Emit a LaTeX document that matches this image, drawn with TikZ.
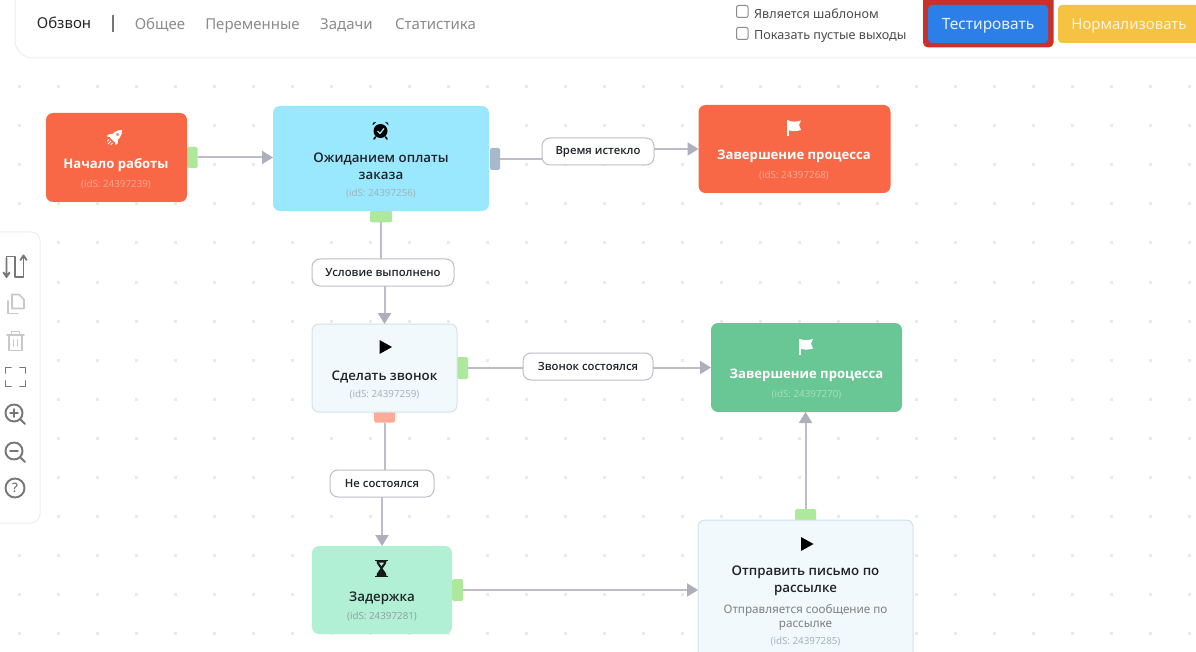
\documentclass[tikz,border=0pt]{standalone}
\usepackage{fontspec}
\setmainfont{Noto Sans}
\newfontfamily\boldfam{Open Sans Bold}
\newfontfamily\semifam{Open Sans Semibold}
\usetikzlibrary{arrows.meta}
\definecolor{linegray}{HTML}{BDBDC9}
\definecolor{tipgray}{HTML}{AEAEBC}
\definecolor{dotgray}{HTML}{EAEAEA}
\definecolor{orangebox}{HTML}{F96846}
\definecolor{cyanbox}{HTML}{9AE8FE}
\definecolor{paleblue}{HTML}{F2F9FC}
\definecolor{paleborder}{HTML}{CFE3EC}
\definecolor{greenbox}{HTML}{69C795}
\definecolor{mintbox}{HTML}{B1F0D4}
\definecolor{portgreen}{HTML}{AEE89A}
\definecolor{portslate}{HTML}{A9B9CC}
\definecolor{portsalmon}{HTML}{FFAB97}
\definecolor{panelline}{HTML}{EEEEEE}
\definecolor{navgray}{HTML}{8C8C8C}
\definecolor{titledark}{HTML}{1F2328}
\definecolor{idorange}{HTML}{F9A48F}
\definecolor{idcool}{HTML}{A3B3BA}
\definecolor{idgreen}{HTML}{A5DDBF}
\definecolor{btnblue}{HTML}{2C7FE8}
\definecolor{btnred}{HTML}{C8302C}
\definecolor{btnyellow}{HTML}{F6C244}
\definecolor{icondark}{HTML}{777777}
\definecolor{iconlight}{HTML}{C8C8C8}
\tikzset{
  flowbox/.style={rectangle,rounded corners=7pt,inner sep=0pt,outer sep=0pt},
  portbox/.style={rectangle,rounded corners=1.5pt,inner sep=0pt,outer sep=0pt},
  title/.style={font=\semifam\fontsize{13.3}{17.5}\selectfont,align=center,text=titledark,inner sep=0pt},
  whitetitle/.style={font=\boldfam\fontsize{13.1}{17}\selectfont,align=center,text=white,inner sep=0pt},
  idtext/.style={font=\fontsize{9.8}{12}\selectfont,inner sep=0pt},
  edgelabel/.style={rectangle,rounded corners=8pt,draw=linegray,line width=1pt,fill=white,inner sep=0pt,outer sep=0pt,font=\semifam\fontsize{11.3}{14}\selectfont,text=titledark},
  edge/.style={draw=linegray,line width=2pt,-{Triangle[length=11pt,width=13pt,color=tipgray]}},
  plain/.style={draw=linegray,line width=2pt},
  nav/.style={font=\fontsize{15}{17}\selectfont,text=navgray,inner sep=0pt,anchor=base},
  chk/.style={font=\fontsize{12.6}{15}\selectfont,text=black!70,inner sep=0pt,anchor=base west},
  tool/.style={draw=icondark,line width=1.9pt,line cap=round,line join=round},
  toollight/.style={draw=iconlight,line width=1.6pt,line cap=round,line join=round}
}
\begin{document}
\begin{tikzpicture}[x=1pt,y=-1pt]
\clip (0,0) rectangle (1196,652);
\fill[white] (0,0) rectangle (1196,652);
% dot grid
\foreach \i in {0,...,30}{\foreach \j in {0,...,14}{
  \fill[dotgray] ({19+39*\i-1.5},{87+39*\j-1.5}) rectangle +(3,3);
}}
% header panel
\draw[panelline,line width=1pt,fill=white,rounded corners=18pt] (15,-30) rectangle (1230,58);
\node[font=\fontsize{15}{17}\selectfont,text=black!85,inner sep=0pt,anchor=base] (tabmain) at (64,29) {Обзвон};
\draw[icondark,line width=1.2pt] (113,15) -- (113,32);
\node[nav] (tab1) at (160,30) {Общее};
\node[nav] (tab2) at (252.5,30) {Переменные};
\node[nav] (tab3) at (346.5,30) {Задачи};
\node[nav] (tab4) at (435.5,30) {Статистика};
\draw[black!45,line width=1pt,rounded corners=2pt,fill=white] (736.5,5.5) rectangle (748,17.5);
\draw[black!45,line width=1pt,rounded corners=2pt,fill=white] (736.5,27.5) rectangle (748,39.5);
\node[chk] (chka) at (754,19) {Является шаблоном};
\node[chk] (chkb) at (754,40) {Показать пустые выходы};
\fill[btnred,rounded corners=5pt] (923,-6) rectangle (1053.5,47.5);
\node[rectangle,rounded corners=4pt,fill=btnblue,minimum width=120pt,minimum height=38pt,inner sep=0pt] (testbtn) at (988,24) {};
\node[text=white!88!btnblue,font=\fontsize{15.5}{18}\selectfont,inner sep=0pt,anchor=base] (testtxt) at (988,30) {Тестировать};
\node[rectangle,rounded corners=4pt,fill=btnyellow,minimum width=160pt,minimum height=38pt,inner sep=0pt] (normbg) at (1138,24) {};
\node[text=white!80!btnyellow,font=\fontsize{15}{18}\selectfont,inner sep=0pt,anchor=base] (normbtn) at (1129,30) {Нормализовать};
% toolbar
\draw[panelline,line width=1pt,fill=white,rounded corners=9pt] (-20,232) rectangle (40,523);
\draw[tool] (6.5,258) -- (6.5,276) (3.5,272.5) -- (6.5,277) -- (9.5,272.5);
\draw[tool] (6.5,258) -- (6.5,256.5) -- (15,256.5) -- (15,277) -- (23.5,277) -- (23.5,257);
\draw[tool] (20.5,260) -- (23.5,255.5) -- (26.5,260);
\draw[toollight] (12,294.5) -- (19,294.5) -- (24,299.5) -- (24,308.5) -- (12,308.5) -- cycle;
\draw[toollight] (8,301) -- (8,313.5) -- (18,313.5);
\draw[toollight] (7,335) -- (24,335) (11.5,335) -- (11.5,331.5) -- (19.5,331.5) -- (19.5,335);
\draw[toollight] (9,335) -- (9,350.5) -- (22,350.5) -- (22,335) (13.5,340) -- (13.5,346) (17.5,340) -- (17.5,346);
\draw[tool] (5.5,373) -- (5.5,367.5) -- (11,367.5) (20,367.5) -- (25.5,367.5) -- (25.5,373) (5.5,381) -- (5.5,386.5) -- (11,386.5) (20,386.5) -- (25.5,386.5) -- (25.5,381);
\draw[tool] (14,413) circle (8.5) (20.2,419.2) -- (25,424) (14,409) -- (14,417) (10,413) -- (18,413);
\draw[tool] (14,451) circle (8.5) (20.2,457.2) -- (25,462) (10,451) -- (18,451);
\draw[tool] (15,488) circle (9.5);
\node[text=icondark,font=\semifam\fontsize{13}{15}\selectfont,inner sep=0pt] (helpmark) at (15,488) {?};
% ports
\node[portbox,fill=portgreen,minimum width=11pt,minimum height=21pt] (p1) at (192,157.5) {};
\node[portbox,fill=portslate,minimum width=10pt,minimum height=22pt] (p2) at (495,159) {};
\node[portbox,fill=portgreen,minimum width=22pt,minimum height=12pt] (p3) at (381,216.5) {};
\node[portbox,fill=portgreen,minimum width=11pt,minimum height=22pt] (p4) at (462.5,368) {};
\node[portbox,fill=portsalmon,minimum width=21pt,minimum height=11pt] (p5) at (384.5,417) {};
\node[portbox,fill=portgreen,minimum width=11pt,minimum height=22pt] (p6) at (457.5,590) {};
\node[portbox,fill=portgreen,minimum width=21pt,minimum height=12pt] (p7) at (805.5,515) {};
% boxes
\node[flowbox,fill=orangebox,minimum width=141pt,minimum height=89pt] (start) at (116.5,157.5) {};
\node[flowbox,fill=cyanbox,minimum width=216pt,minimum height=105pt] (wait) at (381,158.5) {};
\node[flowbox,fill=orangebox,minimum width=192pt,minimum height=88pt] (end1) at (794.5,149) {};
\node[flowbox,fill=paleblue,draw=paleborder,line width=1pt,minimum width=145pt,minimum height=88pt] (call) at (384.5,368) {};
\node[flowbox,fill=greenbox,minimum width=191pt,minimum height=89pt] (end2) at (806.5,367.5) {};
\node[flowbox,fill=mintbox,minimum width=140pt,minimum height=88pt] (delay) at (382,590) {};
\node[flowbox,fill=paleblue,draw=paleborder,line width=1pt,minimum width=215pt,minimum height=150pt] (mail) at (805.5,595) {};
% titles
\node[whitetitle] (t1) at (116,165.5) {Начало работы};
\node[idtext,text=idorange] (i1) at (116,184.5) {(idS: 24397239)};
\node[title] (t2) at (381,166) {Ожиданием оплаты\\заказа};
\node[idtext,text=idcool] (i2) at (381,194) {(idS: 24397256)};
\node[whitetitle] (t3) at (794,156.5) {Завершение процесса};
\node[idtext,text=idorange] (i3) at (794,176) {(idS: 24397268)};
\node[title] (t4) at (384.5,376.5) {Сделать звонок};
\node[idtext,text=idcool] (i4) at (384.5,394.5) {(idS: 24397259)};
\node[whitetitle] (t5) at (806.5,375.5) {Завершение процесса};
\node[idtext,text=idgreen] (i5) at (806.5,395) {(idS: 24397270)};
\node[title] (t6) at (382,598) {Задержка};
\node[idtext,text=idcool!90!black] (i6) at (382,617) {(idS: 24397281)};
\node[title] (t7) at (805.5,581) {Отправить письмо по\\рассылке};
\node[font=\fontsize{11.7}{14}\selectfont,text=black!50,align=center,inner sep=0pt] (s7) at (805.5,617) {Отправляется сообщение по\\рассылке};
\node[idtext,text=idcool] (i7) at (805.5,642) {(idS: 24397285)};
% edge labels
\node[edgelabel,minimum width=112pt,minimum height=27pt] (lab1) at (598,151.5) {Время истекло};
\node[edgelabel,minimum width=142pt,minimum height=27pt] (lab2) at (383,272.5) {Условие выполнено};
\node[edgelabel,minimum width=130pt,minimum height=27pt] (lab3) at (588,366.5) {Звонок состоялся};
\node[edgelabel,minimum width=104pt,minimum height=27pt] (lab4) at (382,483.5) {Не состоялся};
% connectors
\draw[edge] (p1.east) -- (wait.west |- p1.east);
\draw[plain] (p2.east) -- (lab1.west |- p2.east);
\draw[edge] (lab1.east |- end1.west) -- (end1.west);
\draw[plain] (p3.south) -- (p3.south |- lab2.north);
\draw[edge] (call.north |- lab2.south) -- (call.north);
\draw[plain] (p4.east) -- (lab3.west |- p4.east);
\draw[edge] (lab3.east |- end2.west) -- (end2.west);
\draw[plain] (p5.south) -- (p5.south |- lab4.north);
\draw[edge] (lab4.south) -- (delay.north);
\draw[edge] (p6.east) -- (mail.west |- p6.east);
\draw[edge] (p7.north) -- (p7.north |- end2.south);
% rocket
\begin{scope}[shift={(115,137)},rotate=-45]
\fill[white] (0,-10) .. controls (4.5,-6) and (4.5,0) .. (3.2,4) -- (-3.2,4) .. controls (-4.5,0) and (-4.5,-6) .. (0,-10) -- cycle;
\fill[white] (-3.6,-1) -- (-6.5,3) -- (-6,5.5) -- (-3.2,3) -- cycle (3.6,-1) -- (6.5,3) -- (6,5.5) -- (3.2,3) -- cycle;
\fill[orangebox] (0,-3.5) circle (1.6);
\draw[white,line width=1pt] (-2.5,6) -- (-2.5,8.5) (0,6) -- (0,10) (2.5,6) -- (2.5,8.5);
\end{scope}
% alarm clock
\fill[black] (380.5,131) circle (7);
\fill[black] (372.5,125.5) -- (376,122) .. controls (373.5,121.5) and (372,123) .. (372.5,125.5) -- cycle;
\fill[black] (388.5,125.5) -- (385,122) .. controls (387.5,121.5) and (389,123) .. (388.5,125.5) -- cycle;
\draw[black,line width=1.6pt,line cap=round] (375.5,137) -- (374,139) (385.5,137) -- (387,139);
\draw[cyanbox,line width=1.3pt] (377.5,131) -- (380,133.5) -- (384,128.5);
% flags
\fill[white] (787,120) rectangle (789,136);
\fill[white] (788,120.5) .. controls (792,122) and (796,122) .. (801,120.5) -- (799,125) -- (801,130) .. controls (796,131.5) and (792,131.5) .. (788,130) -- cycle;
\fill[white] (799,338.5) rectangle (801,354.5);
\fill[white] (800,339) .. controls (804,340.5) and (808,340.5) .. (813,339) -- (811,343.5) -- (813,348.5) .. controls (808,350) and (804,350) .. (800,348.5) -- cycle;
% play icons
\fill[black] (379.5,340) -- (392,347) -- (379.5,354) -- cycle;
\fill[black] (801,537) -- (813.5,544) -- (801,551) -- cycle;
% hourglass
\draw[black!90,line width=1.5pt] (375,560.5) -- (388,560.5) (375,576.5) -- (388,576.5);
\fill[black!90] (376.5,561) -- (386.5,561) .. controls (386.5,565) and (383,566.5) .. (382.5,568.5) .. controls (383,570.5) and (386.5,572) .. (386.5,576) -- (376.5,576) .. controls (376.5,572) and (380,570.5) .. (380.5,568.5) .. controls (380,566.5) and (376.5,565) .. (376.5,561) -- cycle;
\fill[mintbox] (378.8,562.5) -- (384.2,562.5) -- (381.5,566) -- cycle;
\end{tikzpicture}
\end{document}
